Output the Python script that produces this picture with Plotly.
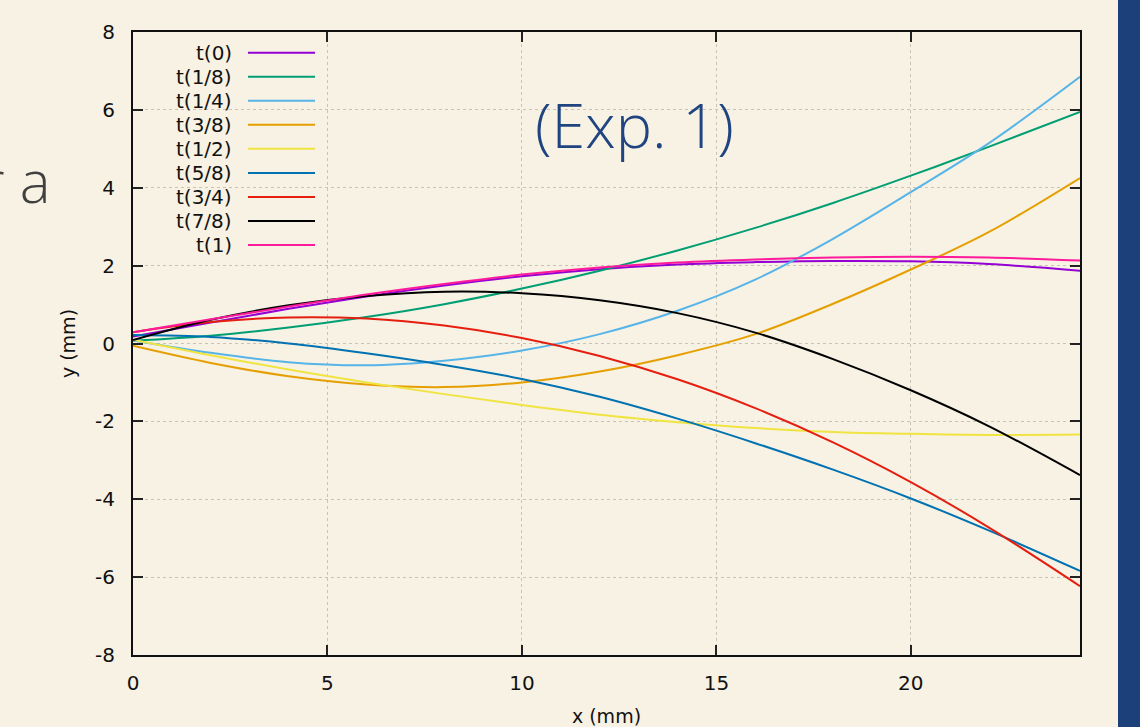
import plotly.graph_objects as go

# ---------------- data ----------------
x_mm = [0, 2, 4, 6, 8, 10, 12, 14, 16, 18, 20, 22, 24.35]

labels = ["t(0)", "t(1/8)", "t(1/4)", "t(3/8)", "t(1/2)", "t(5/8)", "t(3/4)", "t(7/8)", "t(1)"]

y_t0   = [0.18, 0.54, 0.89, 1.21, 1.49, 1.73, 1.91, 2.03, 2.09, 2.12, 2.11, 2.04, 1.87]
y_t1_8 = [0.07, 0.20, 0.41, 0.68, 1.01, 1.41, 1.87, 2.39, 2.97, 3.61, 4.31, 5.05, 5.95]
y_t1_4 = [0.08, -0.24, -0.48, -0.56, -0.44, -0.18, 0.24, 0.84, 1.64, 2.69, 3.89, 5.14, 6.85]
y_t3_8 = [-0.06, -0.50, -0.84, -1.05, -1.12, -1.00, -0.72, -0.30, 0.24, 1.02, 1.90, 2.86, 4.25]
y_t1_2 = [0.10, -0.30, -0.67, -1.00, -1.30, -1.58, -1.83, -2.02, -2.17, -2.27, -2.32, -2.35, -2.34]
y_t5_8 = [0.22, 0.17, 0.00, -0.25, -0.55, -0.91, -1.37, -1.93, -2.56, -3.24, -3.98, -4.80, -5.84]
y_t3_4 = [0.29, 0.55, 0.67, 0.64, 0.46, 0.14, -0.32, -0.92, -1.66, -2.54, -3.56, -4.72, -6.23]
y_t7_8 = [0.09, 0.61, 0.98, 1.22, 1.33, 1.29, 1.11, 0.78, 0.28, -0.40, -1.20, -2.12, -3.38]
y_t1   = [0.29, 0.62, 0.95, 1.26, 1.53, 1.77, 1.95, 2.08, 2.16, 2.21, 2.23, 2.21, 2.13]

series = [y_t0, y_t1_8, y_t1_4, y_t3_8, y_t1_2, y_t5_8, y_t3_4, y_t7_8, y_t1]
colors = ["#9400d3", "#009e73", "#56b4e9", "#e69f00", "#f0e442",
          "#0072b2", "#e51e10", "#000000", "#ff1a9c"]

x_ticks = [0, 5, 10, 15, 20]
x_tick_text = ["0", "5", "10", "15", "20"]
y_ticks = [-8, -6, -4, -2, 0, 2, 4, 6, 8]
y_tick_text = ["-8", "-6", "-4", "-2", "0", "2", "4", "6", "8"]

# ---------------- figure ----------------
W, H = 1140, 727
L, R, T, B = 133, 60, 32, 72
pw, ph = W - L - R, H - T - B

def px_x(px):
    return (px - L) / pw

def px_y(py):
    return 1 - (py - T) / ph

BG = "#f7f2e3"
FONT = "DejaVu Sans, Liberation Sans, Arial, sans-serif"
FS = 20

fig = go.Figure()
for lab, ys, col in zip(labels, series, colors):
    fig.add_trace(go.Scatter(
        x=x_mm, y=ys, name=lab, mode="lines",
        line=dict(color=col, width=2, shape="spline", smoothing=1.0),
        showlegend=False,
    ))

axis_common = dict(
    showline=True, linecolor="#111111", linewidth=2, mirror="ticks",
    ticks="inside", ticklen=10, tickwidth=2, tickcolor="#222222",
    showgrid=True, gridcolor="#c8c3b4", gridwidth=1, griddash="dot",
    zeroline=False, automargin=False,
    tickfont=dict(family=FONT, size=FS, color="#111111"),
)

fig.update_layout(
    width=W, height=H,
    margin=dict(l=L, r=R, t=T, b=B, pad=0, autoexpand=False),
    paper_bgcolor=BG, plot_bgcolor=BG,
    font=dict(family=FONT, color="#111111"),
    xaxis=dict(range=[0, 24.35], tickvals=x_ticks, ticktext=x_tick_text, ticklabelstandoff=9,
               title=dict(text="x (mm)", font=dict(family=FONT, size=FS - 1), standoff=16),
               **axis_common),
    yaxis=dict(range=[-8, 8], tickvals=y_ticks, ticktext=y_tick_text, ticklabelstandoff=12,
               title=dict(text="y (mm)", font=dict(family=FONT, size=FS - 1), standoff=14),
               **axis_common),
)

# manual gnuplot-style key: label right-aligned, sample line to its right
ann = []
shapes = []
for i, (lab, col) in enumerate(zip(labels, colors)):
    py = 52.7 + 24.04 * i
    ann.append(dict(text=lab, xref="paper", yref="paper", x=px_x(234), y=px_y(py),
                    xanchor="right", yanchor="middle", showarrow=False,
                    font=dict(family=FONT, size=FS, color="#111111")))
    shapes.append(dict(type="line", xref="paper", yref="paper",
                       x0=px_x(248), x1=px_x(315), y0=px_y(py), y1=px_y(py),
                       line=dict(color=col, width=2)))

ann.append(dict(text="(Exp. 1)", xref="paper", yref="paper", x=px_x(634), y=px_y(124),
                xanchor="center", yanchor="middle", showarrow=False,
                font=dict(family="Open Sans, sans-serif", size=61, color="#1f4480", weight=300)))
ann.append(dict(text="r a", xref="paper", yref="paper", x=px_x(52), y=px_y(180),
                xanchor="right", yanchor="middle", showarrow=False,
                font=dict(family="Open Sans, sans-serif", size=58, color="#404040", weight=300)))

shapes.append(dict(type="rect", xref="paper", yref="paper",
                   x0=px_x(1118), x1=px_x(1145), y0=-0.5, y1=1.5,
                   line=dict(width=0), fillcolor="#1c4079", layer="above"))

fig.update_layout(annotations=ann, shapes=shapes)
fig.write_html("out.html")
